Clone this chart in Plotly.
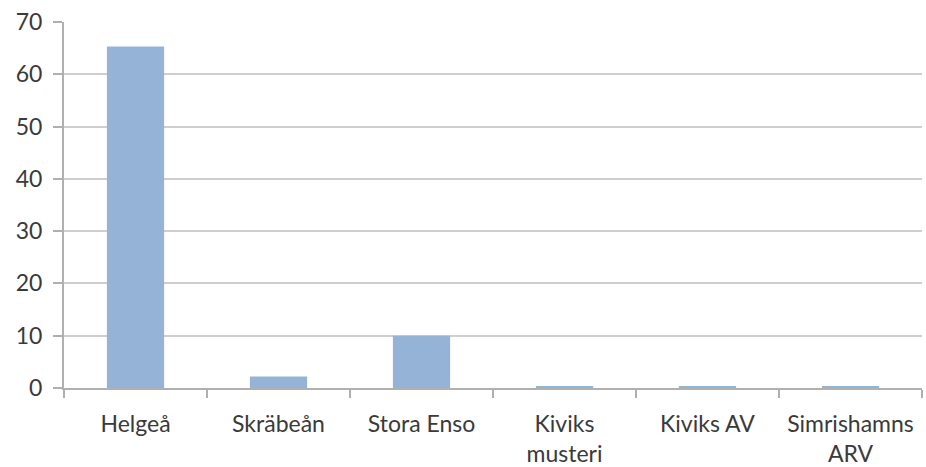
import plotly.graph_objects as go

categories = ["Helgeå", "Skräbeån", "Stora Enso", "Kiviks<br>musteri", "Kiviks AV", "Simrishamns<br>ARV"]
values = [65.3, 2.2, 10.0, 0.3, 0.3, 0.3]
y_ticks = [0, 10, 20, 30, 40, 50, 60, 70]

fig = go.Figure(go.Bar(x=categories, y=values, marker=dict(color="#95B3D7", line=dict(width=0))))

fig.update_layout(
    width=926, height=467,
    margin=dict(l=64, r=4, t=22, b=79, autoexpand=False),
    paper_bgcolor="white", plot_bgcolor="white",
    bargap=0.6,
    showlegend=False,
    font=dict(family="Lato, Open Sans, sans-serif", size=23, color="#3a3a3a"),
)
fig.update_xaxes(
    type="category", tickson="boundaries", ticks="outside", ticklen=8, tickcolor="#b0b0b0", tickwidth=1.5,
    showline=True, linecolor="#b0b0b0", linewidth=2, showgrid=False,
    tickfont=dict(size=23, color="#3a3a3a"), ticklabelstandoff=14,
)
fig.update_yaxes(
    range=[0, 70], tickvals=y_ticks, ticks="outside", ticklen=9, tickcolor="#b0b0b0", tickwidth=1.5,
    showline=True, linecolor="#b0b0b0", linewidth=2,
    showgrid=True, gridcolor="#cfcfcf", gridwidth=2, zeroline=False,
    tickfont=dict(size=23, color="#3a3a3a"), ticklabelstandoff=6,
)

fig.write_html("out.html", config={"displayModeBar": False},
               post_script="document.body.style.margin='0';")
